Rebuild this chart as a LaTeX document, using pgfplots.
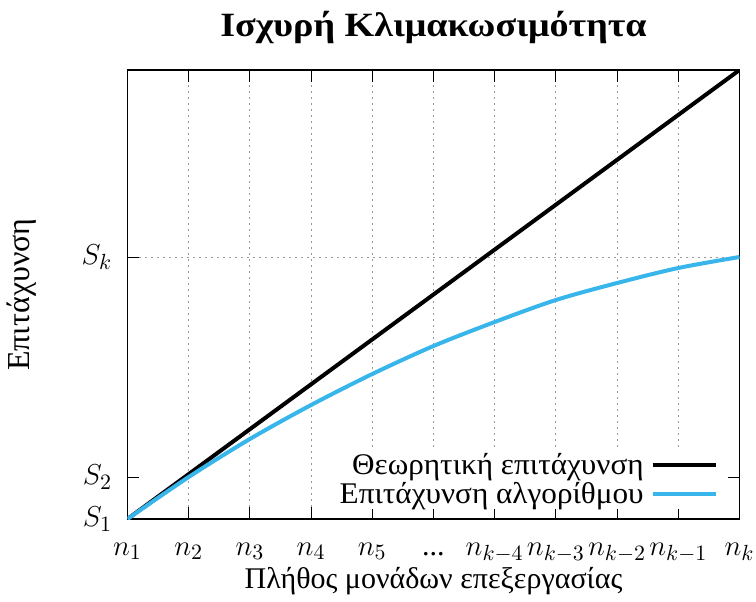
\documentclass[border=0pt]{standalone}
\usepackage{fontspec}
\setmainfont{Liberation Serif}
\newfontfamily\titlefont{Liberation Serif}[FakeStretch=1.12]
\newfontfamily\legfont{Liberation Serif}[FakeStretch=1.04]
\usepackage{pgfplots}
\pgfplotsset{compat=1.18}
\definecolor{myblue}{RGB}{56,182,235}
\newcommand{\mydots}{...}
\begin{document}
\begin{tikzpicture}
\begin{axis}[
 scale only axis, width=306pt, height=224.5pt,
 xmin=1,xmax=11,ymin=0,ymax=449,
 xtick={1,2,3,4,5,6,7,8,9,10,11},
 xticklabels={$n_1$,$n_2$,$n_3$,$n_4$,$n_5$,\mydots,$n_{k-4}$,$n_{k-3}$,$n_{k-2}$,$n_{k-1}$,$n_k$},
 ytick={0,42}, yticklabels={$S_1$,$S_2$},
 extra y ticks={262}, extra y tick labels={$S_k$},
 extra y tick style={grid=major},
 xmajorgrids,
 grid style={gray!80, line width=0.5pt, dash pattern=on 1pt off 2pt},
 tick align=inside, major tick length=6pt,
 tick style={black, line width=0.5pt},
 axis line style={line width=0.8pt},
 tick label style={font=\fontsize{15}{18}\selectfont},
 xticklabel style={anchor=base, yshift=-18pt},
 yticklabel style={inner sep=0pt, xshift=-7.5pt},
 title={\titlefont\bfseries Ισχυρή Κλιμακωσιμότητα},
 title style={at={(rel axis cs:0.5,1)}, anchor=base, yshift=11pt, font=\fontsize{17}{20}\selectfont},
 xlabel={Πλήθος μονάδων επεξεργασίας},
 xlabel style={at={(rel axis cs:0.5,0)}, anchor=base, yshift=-34.5pt, font=\fontsize{15}{18}\selectfont},
 ylabel={Επιτάχυνση},
 ylabel style={at={([xshift=-49pt]rel axis cs:0,0.5)}, anchor=base, font=\fontsize{16}{18}\selectfont},
 legend plot pos=right,
 legend cell align=right,
 legend image code/.code={\draw[#1] (0pt,0pt) -- (31.5pt,0pt);},
 legend style={at={(rel axis cs:0.965,0.022)}, anchor=south east, draw=none, fill=white, inner sep=0pt,
   font=\legfont\fontsize{15}{18}\selectfont,
   nodes={text height=11pt, text depth=1.5pt, inner ysep=1pt, inner xsep=3.5pt}},
]
\addplot[black, line width=2pt] coordinates {(1,0) (11,449)};
\addlegendentry{Θεωρητική επιτάχυνση}
\addplot[myblue, line width=2pt, smooth] coordinates {(1,0)(2,42)(3,80)(4,114)(5,145)(6,173)(7,197)(8,219)(9,236)(10,251)(11,262)};
\addlegendentry{Επιτάχυνση αλγορίθμου}
\end{axis}
\pgfresetboundingbox
\path (-63.75pt,-41pt) rectangle (314.25pt,259.5pt);
\end{tikzpicture}
\end{document}
